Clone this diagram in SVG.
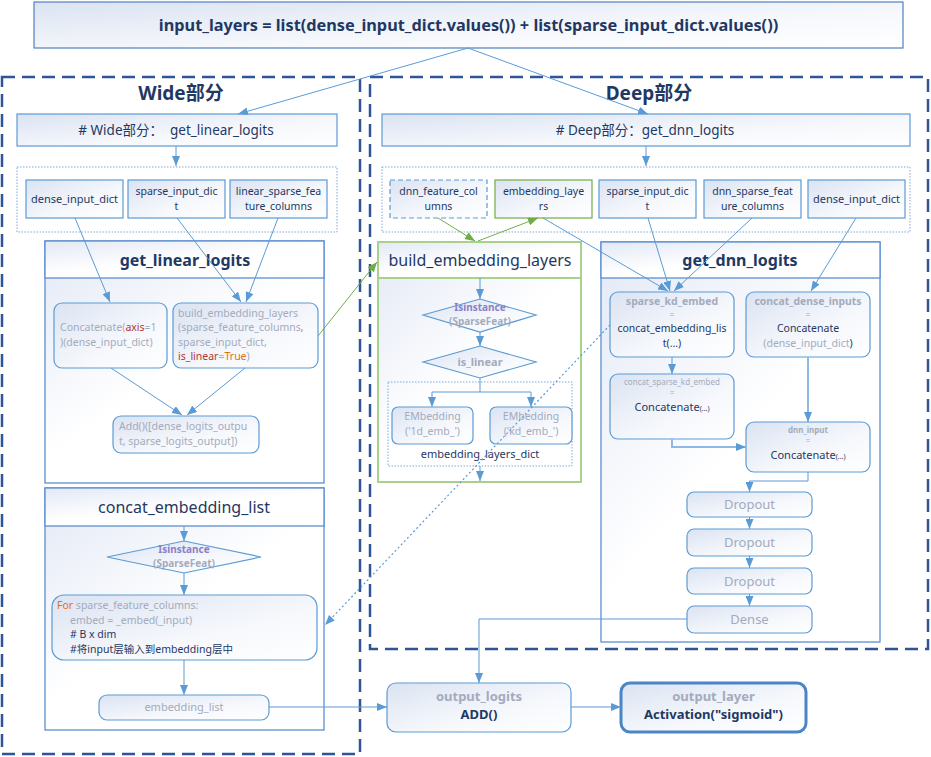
<svg xmlns="http://www.w3.org/2000/svg" width="931" height="757" viewBox="0 0 931 757">
<defs>
<linearGradient id="g" x1="0" y1="0" x2="1" y2="1"><stop offset="0" stop-color="#dbe3f2"/><stop offset="0.6" stop-color="#f6f8fc"/><stop offset="1" stop-color="#ffffff"/></linearGradient>
<linearGradient id="gc" x1="0" y1="0" x2="0.8" y2="1"><stop offset="0" stop-color="#e2e8f5"/><stop offset="0.55" stop-color="#ffffff"/><stop offset="1" stop-color="#ffffff"/></linearGradient>
<marker id="a" viewBox="0 0 10 8" refX="10" refY="4" markerWidth="10" markerHeight="8" markerUnits="userSpaceOnUse" orient="auto"><path d="M0,0 L10,4 L0,8 z" fill="#5b9bd5"/></marker>
<marker id="ag" viewBox="0 0 10 8" refX="10" refY="4" markerWidth="10" markerHeight="8" markerUnits="userSpaceOnUse" orient="auto"><path d="M0,0 L10,4 L0,8 z" fill="#70ad47"/></marker>
<style>
text{font-family:"Noto Sans","Noto Sans CJK SC",sans-serif}
.c{text-anchor:middle}
.dk{fill:#1f3864}
.gr{fill:#a3abbd}
.pu{fill:#8a80c8}
.rd{fill:#b0392b}
.or{fill:#e3700f}
.b{font-weight:bold}
.box{fill:url(#g);stroke:#5b9bd5;stroke-width:1.2}
.cont{fill:url(#gc);stroke:#5b8fcf;stroke-width:1.3}
.grp{fill:none;stroke:#7fa8d9;stroke-width:1;stroke-dasharray:1.5 1.5}
.frame{fill:none;stroke:#2f5597;stroke-width:2.5;stroke-dasharray:13 7}
.ln{fill:none;stroke:#5b9bd5;stroke-width:1;marker-end:url(#a)}
.lnp{fill:none;stroke:#5b9bd5;stroke-width:1}
.lt{fill:none;stroke:#8fb8e3;stroke-width:2;marker-end:url(#a)}
.lg{fill:none;stroke:#70ad47;stroke-width:1;marker-end:url(#ag)}
.dot{fill:none;stroke:#5b9bd5;stroke-width:1.2;stroke-dasharray:2 2.5;marker-end:url(#a)}
.s11{font-size:11px}
.s10{font-size:10.5px}
</style>
</defs>
<rect width="931" height="757" fill="#ffffff"/>

<g id="frames">
<rect class="frame" x="2" y="77" width="358" height="677"/>
<rect class="frame" x="370" y="77" width="558" height="572"/>
<text class="c dk b" x="181" y="100" font-size="19">Wide部分</text>
<text class="c dk b" x="649" y="100" font-size="19">Deep部分</text>
</g>

<g id="input_layers">
<rect x="34" y="2" width="869" height="46" fill="url(#g)" stroke="#4f81bd" stroke-width="1.2"/>
<text class="c dk b" x="468.5" y="31" font-size="16.3">input_layers = list(dense_input_dict.values()) + list(sparse_input_dict.values())</text>
</g>

<g id="wide_header">
<rect class="box" x="17" y="114" width="320" height="32"/>
<text class="c dk" x="176" y="135" font-size="13.5"># Wide部分：&#160;&#160;get_linear_logits</text>
</g>
<g id="deep_header">
<rect class="box" x="382" y="114" width="528" height="32"/>
<text class="c dk" x="645" y="135" font-size="13.5"># Deep部分：get_dnn_logits</text>
</g>

<g id="wide_inputs">
<rect class="grp" x="17" y="167" width="320" height="65"/>
<g id="w_dense_input_dict"><rect class="box" x="26" y="180" width="97" height="38"/><text class="c dk s11" x="74.5" y="203">dense_input_dict</text></g>
<g id="w_sparse_input_dict"><rect class="box" x="128" y="180" width="97" height="38"/><text class="c dk s10" x="176.5" y="195">sparse_input_dic</text><text class="c dk s10" x="176.5" y="209.5">t</text></g>
<g id="w_linear_sparse_feature_columns"><rect class="box" x="230" y="180" width="97" height="38"/><text class="c dk s10" x="278.5" y="195">linear_sparse_fea</text><text class="c dk s10" x="278.5" y="209.5">ture_columns</text></g>
</g>

<g id="deep_inputs">
<rect class="grp" x="382" y="167" width="528" height="65"/>
<g id="d_dnn_feature_columns"><rect x="390" y="180" width="97" height="38" fill="url(#g)" stroke="#5b9bd5" stroke-width="1.2" stroke-dasharray="5 3"/><text class="c dk s10" x="438.5" y="195">dnn_feature_col</text><text class="c dk s10" x="438.5" y="209.5">umns</text></g>
<g id="d_embedding_layers"><rect x="495" y="180" width="97" height="38" fill="url(#g)" stroke="#70ad47" stroke-width="1.2"/><text class="c dk s10" x="543.5" y="195">embedding_laye</text><text class="c dk s10" x="543.5" y="209.5">rs</text></g>
<g id="d_sparse_input_dict"><rect class="box" x="599" y="180" width="97" height="38"/><text class="c dk s10" x="647.5" y="195">sparse_input_dic</text><text class="c dk s10" x="647.5" y="209.5">t</text></g>
<g id="d_dnn_sparse_feature_columns"><rect class="box" x="704" y="180" width="97" height="38"/><text class="c dk s10" x="752.5" y="195">dnn_sparse_feat</text><text class="c dk s10" x="752.5" y="209.5">ure_columns</text></g>
<g id="d_dense_input_dict"><rect class="box" x="808" y="180" width="97" height="38"/><text class="c dk s11" x="856.5" y="203">dense_input_dict</text></g>
</g>

<g id="get_linear_logits">
<rect class="cont" x="45" y="241" width="279" height="242"/>
<rect x="45" y="241" width="279" height="37" fill="url(#gc)" stroke="#5b8fcf" stroke-width="1.3"/>
<text class="c dk b" x="185" y="266" font-size="16">get_linear_logits</text>
<g id="concatenate_dense"><rect class="box" x="54" y="303" width="113" height="65" rx="8"/>
<text class="gr s10" x="60" y="331">Concatenate(<tspan class="rd">axis</tspan>=1</text>
<text class="gr s10" x="60" y="345.5">)(dense_input_dict)</text></g>
<g id="build_embedding_call"><rect class="box" x="173" y="303" width="145" height="65" rx="8"/>
<text class="gr s10" x="178" y="317">build_embedding_layers</text>
<text class="gr s10" x="178" y="331.4">(sparse_feature_columns<tspan class="or">,</tspan></text>
<text class="gr s10" x="178" y="345.8">sparse_input_dict,</text>
<text class="gr s10" x="178" y="360.2"><tspan class="rd">is_linear</tspan>=<tspan class="or">True</tspan>)</text></g>
<g id="add_linear"><rect class="box" x="113" y="416" width="146" height="37" rx="8"/>
<text class="gr s10" x="119" y="430">Add()([dense_logits_outpu</text>
<text class="gr s10" x="119" y="444.5">t, sparse_logits_output])</text></g>
</g>

<g id="concat_embedding_list">
<rect class="cont" x="45" y="488" width="279" height="242"/>
<rect x="45" y="488" width="279" height="38" fill="url(#gc)" stroke="#5b8fcf" stroke-width="1.3"/>
<text class="c dk" x="184" y="513" font-size="16">concat_embedding_list</text>
<g id="isinstance_concat"><polygon points="107,557 184,541 261,557 184,573" fill="url(#g)" stroke="#5b9bd5" stroke-width="1.2"/>
<text class="c pu b" font-size="10" x="184" y="552.5">Isinstance</text>
<text class="c gr b" font-size="10" x="184" y="566.5">(SparseFeat)</text></g>
<g id="for_loop"><rect class="box" x="52" y="595" width="265" height="65" rx="12"/>
<text class="gr s10" x="57" y="609"><tspan class="or">For</tspan> sparse_feature_columns:</text>
<text class="gr s10" x="70" y="623.5">embed = _embed(_input)</text>
<text class="dk s10" x="70" y="638"># B x dim</text>
<text class="dk s10" x="70" y="652.5">#将input层输入到embedding层中</text></g>
<g id="embedding_list"><rect class="box" x="99" y="695" width="170" height="25" rx="8"/>
<text class="c gr s11" x="184" y="711">embedding_list</text></g>
</g>

<g id="build_embedding_layers">
<rect x="378" y="242" width="203" height="240" fill="url(#gc)" stroke="#a9d18e" stroke-width="2"/>
<rect x="378" y="242" width="203" height="36" fill="url(#gc)" stroke="#a9d18e" stroke-width="2"/>
<text class="c dk" x="480" y="266" font-size="16">build_embedding_layers</text>
<g id="isinstance_build"><polygon points="423,315 480,299 536,315 480,332" fill="url(#g)" stroke="#5b9bd5" stroke-width="1.2"/>
<text class="c pu b" font-size="10" x="480" y="310.5">Isinstance</text>
<text class="c gr b" font-size="10" x="480" y="324.5">(SparseFeat)</text></g>
<g id="is_linear"><polygon points="423,362 480,346 536,362 480,378" fill="url(#g)" stroke="#5b9bd5" stroke-width="1.2"/>
<text class="c gr b s11" x="480" y="365.5">is_linear</text></g>
<g id="embedding_layers_dict"><rect class="grp" x="388" y="382" width="184" height="84"/>
<text class="c dk s11" x="480" y="458">embedding_layers_dict</text></g>
<g id="emb_1d"><rect class="box" x="392" y="407" width="81" height="37" rx="6"/>
<text class="c gr s10" x="432.5" y="420">EMbedding</text><text class="c gr s10" x="432.5" y="434.5">('1d_emb_')</text></g>
<g id="emb_kd"><rect class="box" x="490" y="407" width="82" height="37" rx="6"/>
<text class="c gr s10" x="531" y="420">EMbedding</text><text class="c gr s10" x="531" y="434.5">('kd_emb_')</text></g>
</g>

<g id="get_dnn_logits">
<rect class="cont" x="601" y="242" width="279" height="400"/>
<rect x="601" y="242" width="279" height="36" fill="url(#gc)" stroke="#5b8fcf" stroke-width="1.3"/>
<text class="c dk b" x="740" y="266" font-size="16">get_dnn_logits</text>
<g id="sparse_kd_embed"><rect class="box" x="610" y="292" width="124" height="65" rx="8"/>
<text class="c gr b s10" x="672" y="305">sparse_kd_embed</text>
<text class="c gr" font-size="9" x="672" y="318">=</text>
<text class="c dk s10" x="672" y="332">concat_embedding_lis</text>
<text class="c dk s10" x="672" y="346.5">t(...)</text></g>
<g id="concat_dense_inputs"><rect class="box" x="746" y="292" width="124" height="65" rx="8"/>
<text class="c gr b" font-size="10.4" x="808" y="305">concat_dense_inputs</text>
<text class="c gr" font-size="9" x="808" y="318">=</text>
<text class="c dk s10" x="808" y="332">Concatenate</text>
<text class="c gr s10" x="808" y="346.5">(dense_input_dict<tspan class="dk">)</tspan></text></g>
<g id="concat_sparse_kd_embed"><rect class="box" x="610" y="374" width="124" height="65" rx="8"/>
<text class="c gr" font-size="8" x="672" y="385">concat_sparse_kd_embed</text>
<text class="c gr" font-size="8" x="672" y="396">=</text>
<text class="c dk s11" x="672" y="411">Concatenate<tspan font-size="7">(...)</tspan></text></g>
<g id="dnn_input"><rect class="box" x="746" y="422" width="124" height="50" rx="8"/>
<text class="c gr b" font-size="8" x="808" y="433">dnn_input</text>
<text class="c gr" font-size="8" x="808" y="444">=</text>
<text class="c dk s11" x="808" y="458.5">Concatenate<tspan font-size="7">(...)</tspan></text></g>
<g id="dropout1"><rect class="box" x="687" y="492" width="125" height="25" rx="7"/><text class="c gr" font-size="13" x="749.5" y="509">Dropout</text></g>
<g id="dropout2"><rect class="box" x="687" y="529" width="125" height="27" rx="7"/><text class="c gr" font-size="13" x="749.5" y="547">Dropout</text></g>
<g id="dropout3"><rect class="box" x="687" y="568" width="125" height="26" rx="7"/><text class="c gr" font-size="13" x="749.5" y="585.5">Dropout</text></g>
<g id="dense"><rect class="box" x="687" y="606" width="125" height="27" rx="7"/><text class="c gr" font-size="13" x="749.5" y="624">Dense</text></g>
</g>

<g id="output_logits">
<rect class="box" x="387" y="683" width="184" height="49" rx="9"/>
<text class="c gr b" font-size="13" x="479" y="701">output_logits</text>
<text class="c dk b" font-size="13" x="479" y="719">ADD()</text>
</g>
<g id="output_layer">
<rect x="621" y="683" width="185" height="49" rx="9" fill="url(#g)" stroke="#4a86c5" stroke-width="3"/>
<text class="c gr b" font-size="13" x="713.5" y="701">output_layer</text>
<text class="c dk b" font-size="13" x="713.5" y="719">Activation("sigmoid")</text>
</g>

<g id="connectors">
<path class="ln" d="M468,48 L238,114"/>
<path class="ln" d="M468,48 L648,114"/>
<path class="ln" d="M176,146 L176,166"/>
<path class="ln" d="M646,146 L646,166"/>
<path class="ln" d="M75,218 L110,302"/>
<path class="ln" d="M177,218 L241,302"/>
<path class="ln" d="M278,218 L246,302"/>
<path class="ln" d="M111,368 L182,415"/>
<path class="ln" d="M245,368 L187,415"/>
<path class="lg" d="M318,336 L377,262"/>
<path class="ln" d="M184,526 L184,541"/>
<path class="ln" d="M184,573 L184,595"/>
<path class="ln" d="M184,660 L184,695"/>
<path class="ln" d="M269,707 L387,707"/>
<path class="lg" d="M438,218 L475,241"/>
<path class="lg" d="M478,241 L538,218"/>
<path class="ln" d="M480,278 L480,299"/>
<path class="ln" d="M480,332 L480,346"/>
<path class="lnp" d="M480,378 L480,392 M432,392 L531,392"/>
<path class="ln" d="M432,392 L432,407"/>
<path class="ln" d="M531,392 L531,407"/>
<path class="ln" d="M480,466 L480,481"/>
<path class="ln" d="M543,218 L668,291"/>
<path class="ln" d="M648,218 L670,291"/>
<path class="ln" d="M752,218 L674,291"/>
<path class="ln" d="M856,218 L811,291"/>
<path class="ln" d="M672,357 L672,374"/>
<path class="lt" d="M808,357 L808,422"/>
<path class="lt" d="M672,439 L672,447 L746,447"/>
<path class="ln" d="M808,472 L808,481 L749.5,481 L749.5,492"/>
<path class="ln" d="M749.5,517 L749.5,529"/>
<path class="ln" d="M749.5,556 L749.5,568"/>
<path class="ln" d="M749.5,594 L749.5,606"/>
<path class="ln" d="M687,619 L479,619 L479,683"/>
<path class="ln" d="M571,707 L621,707"/>
<path class="dot" d="M610,325 L325,625"/>
</g>
</svg>
